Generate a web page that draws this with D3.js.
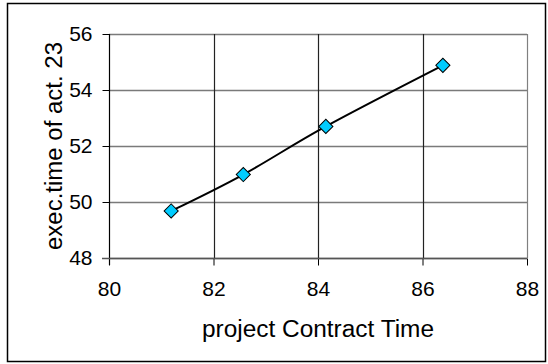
<!DOCTYPE html>
<html>
<head>
<meta charset="utf-8">
<script src="https://cdn.jsdelivr.net/npm/d3@7"></script>
<style>
  html, body { margin: 0; padding: 0; background: #fff; }
  svg { display: block; font-family: "Liberation Sans", Arial, sans-serif; }
</style>
</head>
<body>
<svg id="chart" width="548" height="364"></svg>
<script>
// Contract time vs. execution time of activity 23
const contractTime = [81.19, 82.57, 84.15, 86.39];
const execTime = [49.68, 50.98, 52.70, 54.88];
const xTicks = [80, 82, 84, 86, 88];
const yTicks = [48, 50, 52, 54, 56];
const xTitle = "project Contract Time";
const yTitle = "exec.time of act. 23";

const svg = d3.select("#chart");
const W = 548, H = 364;
const plot = { left: 109, right: 527, top: 34, bottom: 258 };

const x = d3.scaleLinear().domain([80, 88]).range([plot.left, plot.right]);
const y = d3.scaleLinear().domain([48, 56]).range([plot.bottom, plot.top]);

// outer frame
svg.append("rect")
  .attr("x", 7.5).attr("y", 3.5)
  .attr("width", W - 10).attr("height", H - 6)
  .attr("fill", "#fff").attr("stroke", "#000").attr("stroke-width", 1.5);

// horizontal gridlines
svg.append("g").selectAll("line").data(yTicks).join("line")
  .attr("x1", plot.left).attr("x2", plot.right)
  .attr("y1", d => Math.round(y(d)) + 0.5).attr("y2", d => Math.round(y(d)) + 0.5)
  .attr("stroke", "#7a7a7a").attr("stroke-width", 1.5);

// vertical gridlines
svg.append("g").selectAll("line").data(xTicks.slice(1)).join("line")
  .attr("y1", plot.top).attr("y2", plot.bottom)
  .attr("x1", d => Math.round(x(d)) + 0.5).attr("x2", d => Math.round(x(d)) + 0.5)
  .attr("stroke", d => d === 88 ? "#808080" : "#222").attr("stroke-width", 1.2);

// axes
const xAxis = d3.axisBottom(x).tickValues(xTicks).tickSize(7).tickPadding(16).tickFormat(d3.format("d"));
const yAxis = d3.axisLeft(y).tickValues(yTicks).tickSize(7).tickPadding(10).tickFormat(d3.format("d"));

const gx = svg.append("g").attr("transform", `translate(0,${plot.bottom + 0.5})`).call(xAxis);
const gy = svg.append("g").attr("transform", `translate(${plot.left + 0.5},0)`).call(yAxis);

[gx, gy].forEach(g => {
  g.select(".domain").remove();
  g.selectAll(".tick line").attr("stroke", "#000").attr("stroke-width", 1);
  g.selectAll(".tick text").attr("fill", "#000").attr("font-size", 21)
    .attr("font-family", "Liberation Sans, Arial, sans-serif");
});

// axis lines
svg.append("line")
  .attr("x1", plot.left + 0.5).attr("x2", plot.left + 0.5)
  .attr("y1", plot.top).attr("y2", plot.bottom + 7)
  .attr("stroke", "#000").attr("stroke-width", 1.2);
svg.append("line")
  .attr("x1", plot.left - 7).attr("x2", plot.right)
  .attr("y1", plot.bottom + 0.5).attr("y2", plot.bottom + 0.5)
  .attr("stroke", "#555").attr("stroke-width", 1.5);

// smoothed series line
const pts = contractTime.map((c, i) => [c, execTime[i]]);
const line = d3.line().x(d => x(d[0])).y(d => y(d[1])).curve(d3.curveCatmullRom.alpha(0));
svg.append("path").datum(pts)
  .attr("d", line)
  .attr("fill", "none").attr("stroke", "#000").attr("stroke-width", 2);

// diamond markers
const diamond = d3.symbol().type(d3.symbolSquare).size(100);
svg.append("g").selectAll("path").data(pts).join("path")
  .attr("d", diamond)
  .attr("transform", d => `translate(${x(d[0])},${y(d[1])}) rotate(45)`)
  .attr("fill", "#00ccff").attr("stroke", "#000").attr("stroke-width", 1);

// axis titles
svg.append("text")
  .attr("x", (plot.left + plot.right) / 2).attr("y", 337)
  .attr("text-anchor", "middle").attr("font-size", 23)
  .attr("textLength", 232).attr("lengthAdjust", "spacingAndGlyphs")
  .attr("fill", "#000")
  .text(xTitle);

svg.append("text")
  .attr("transform", "translate(62,146) rotate(-90)")
  .attr("text-anchor", "middle").attr("font-size", 23)
  .attr("textLength", 208).attr("lengthAdjust", "spacingAndGlyphs")
  .attr("fill", "#000")
  .text(yTitle);
</script>
</body>
</html>
